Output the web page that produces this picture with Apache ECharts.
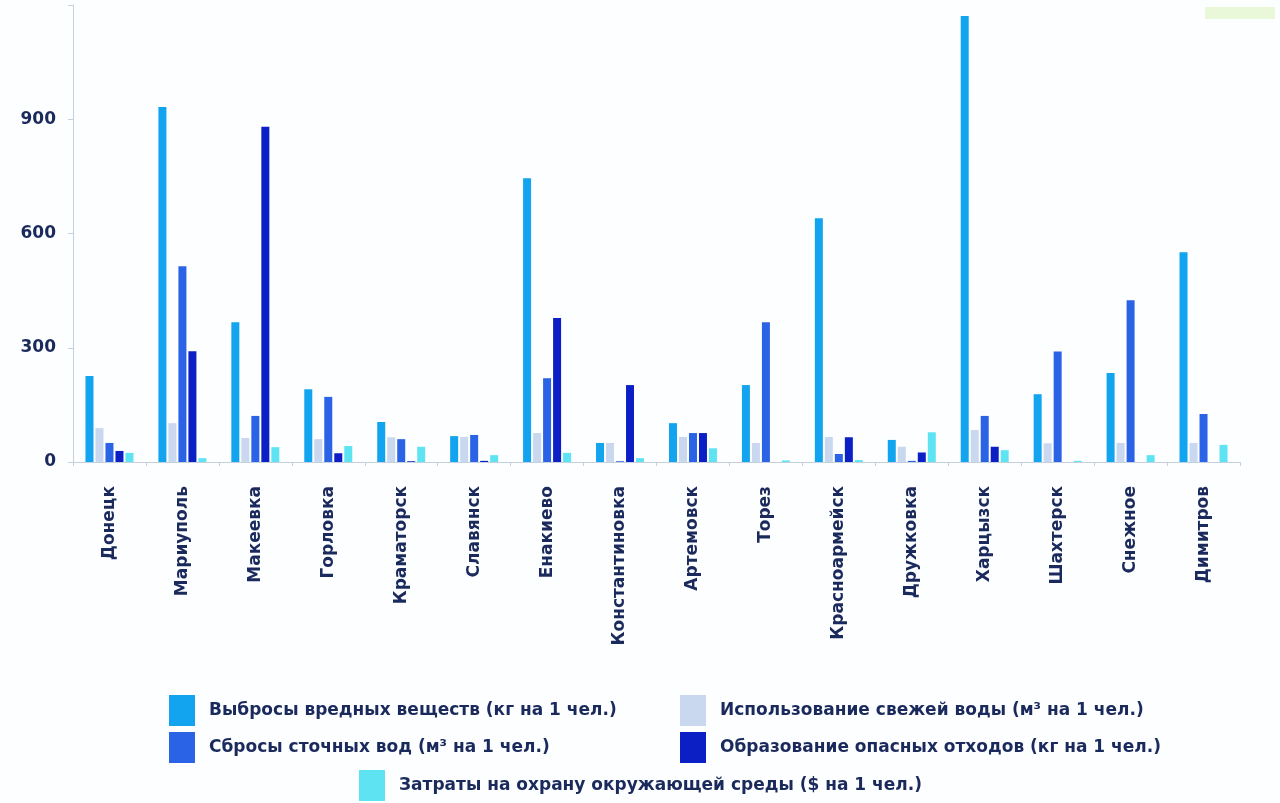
<!DOCTYPE html>
<html>
<head>
<meta charset="utf-8">
<script src="https://cdn.jsdelivr.net/npm/echarts@6/dist/echarts.min.js"></script>
<style>
html,body{margin:0;padding:0;background:#fdfeff;}
#c{width:1280px;height:803px;}
</style>
</head>
<body>
<div id="c"></div>
<script>
const cities = ['Донецк','Мариуполь','Макеевка','Горловка','Краматорск','Славянск','Енакиево','Константиновка','Артемовск','Торез','Красноармейск','Дружковка','Харцызск','Шахтерск','Снежное','Димитров'];
const seriesNames = [
  'Выбросы вредных веществ (кг на 1 чел.)',
  'Использование свежей воды (м³ на 1 чел.)',
  'Сбросы сточных вод (м³ на 1 чел.)',
  'Образование опасных отходов (кг на 1 чел.)',
  'Затраты на охрану окружающей среды ($ на 1 чел.)'
];
const emissions = [226, 932, 367, 191, 105, 68, 745, 50, 102, 202, 640, 58, 1171, 178, 234, 551];
const freshWater = [89, 102, 63, 60, 65, 66, 76, 50, 66, 50, 66, 40, 84, 49, 50, 50];
const wasteWater = [50, 514, 121, 171, 60, 71, 220, 2, 76, 367, 21, 3, 121, 290, 425, 126];
const hazardWaste = [29, 291, 880, 23, 2, 3, 378, 202, 76, 0, 65, 25, 40, 0, 0, 0];
const envCosts = [24, 10, 39, 42, 40, 18, 24, 10, 36, 4, 5, 78, 31, 3, 18, 45];
const yTicks = [0, 300, 600, 900];

const colors = ['#12a4ee', '#c9d7ef', '#2b63e6', '#0b1fc4', '#5ee3f3'];
const dataSets = [emissions, freshWater, wasteWater, hazardWaste, envCosts];
const txt = '#1b2a5c';
const font = 'DejaVu Sans, sans-serif';

const chart = echarts.init(document.getElementById('c'));
const legendBase = {
  orient: 'horizontal', icon: 'rect', itemWidth: 26, itemHeight: 31, itemGap: 20,
  selectedMode: false, padding: 0,
  textStyle: {color: txt, fontSize: 17, fontWeight: 'bold', fontFamily: font, padding: [0,0,0,9]}
};
chart.setOption({
  backgroundColor: '#fdfeff',
  animation: false,
  color: colors,
  graphic: [{type: 'rect', shape: {x: 1205, y: 7, width: 70, height: 12}, style: {fill: '#e8f8d8'}}],
  legend: [
    Object.assign({}, legendBase, {data: [seriesNames[0]], left: 169, top: 695}),
    Object.assign({}, legendBase, {data: [seriesNames[1]], left: 680, top: 695}),
    Object.assign({}, legendBase, {data: [seriesNames[2]], left: 169, top: 732}),
    Object.assign({}, legendBase, {data: [seriesNames[3]], left: 680, top: 732}),
    Object.assign({}, legendBase, {data: [seriesNames[4]], left: 359, top: 770})
  ],
  grid: {left: 73, right: 40, top: 5, bottom: 341, containLabel: false},
  xAxis: {
    type: 'category', data: cities,
    axisLine: {lineStyle: {color: '#c5d0dc', width: 1}},
    axisTick: {show: true, length: 4, lineStyle: {color: '#c5d0dc'}},
    axisLabel: {rotate: 90, interval: 0, color: txt, fontSize: 17, fontWeight: 'bold', fontFamily: font, margin: 24}
  },
  yAxis: {
    type: 'value', min: 0, max: 1200, interval: 300,
    axisLine: {show: true, lineStyle: {color: '#c5d0dc', width: 1}},
    axisTick: {show: true, length: 5, lineStyle: {color: '#c5d0dc'}},
    splitLine: {show: false},
    axisLabel: {color: txt, fontSize: 17, fontWeight: 'bold', fontFamily: font, margin: 17,
      formatter: v => yTicks.indexOf(v) >= 0 ? String(v) : ''}
  },
  series: dataSets.map((d, i) => ({
    name: seriesNames[i], type: 'bar', data: d, barWidth: 8, barGap: '25%',
    itemStyle: {color: colors[i]}
  }))
});
</script>
</body>
</html>
